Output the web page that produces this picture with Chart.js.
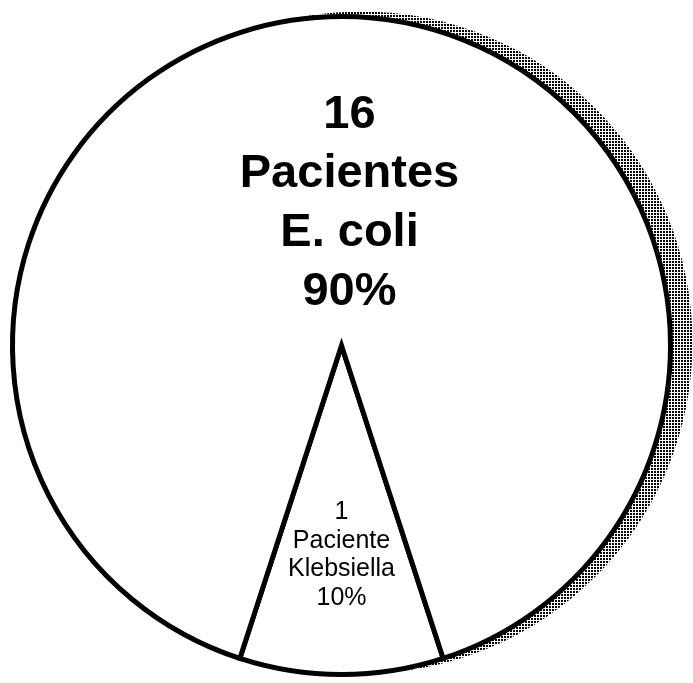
<!DOCTYPE html>
<html>
<head>
<meta charset="utf-8">
<script src="https://cdn.jsdelivr.net/npm/chart.js@4/dist/chart.umd.min.js"></script>
<style>
    html, body { margin: 0; padding: 0; background: #fff; }
    #wrap { width: 693px; height: 683px; }
</style>
</head>
<body>
<div id="wrap"><canvas id="pieChart" width="693" height="683"></canvas></div>
<script>
// Data
const categories = ['Klebsiella', 'E. coli'];
const patients = [1, 16];
const patientWords = ['Paciente', 'Pacientes'];
const percents = [10, 90];

// Halftone dots for the drop shadow
function makeDots() {
    const c = document.createElement('canvas');
    c.width = 3;
    c.height = 3;
    const g = c.getContext('2d');
    g.fillStyle = '#000';
    g.fillRect(0, 0, 2, 2);
    return g.createPattern(c, 'repeat');
}

const shadowPlugin = {
    id: 'pieShadow',
    beforeDatasetsDraw(chart, args, opts) {
        const arc = chart.getDatasetMeta(0).data[0];
        const p = arc.getProps(['x', 'y', 'outerRadius'], true);
        const ctx = chart.ctx;
        ctx.save();
        ctx.fillStyle = makeDots();
        ctx.beginPath();
        ctx.arc(p.x + opts.dx, p.y + opts.dy, p.outerRadius + opts.grow, 0, Math.PI * 2);
        ctx.fill();
        ctx.restore();
    }
};

const labelPlugin = {
    id: 'sliceLabels',
    afterDatasetsDraw(chart, args, opts) {
        const ctx = chart.ctx;
        chart.getDatasetMeta(0).data.forEach((arc, i) => {
            const p = arc.getProps(['x', 'y', 'startAngle', 'endAngle', 'outerRadius'], true);
            const mid = (p.startAngle + p.endAngle) / 2;
            const st = opts.styles[i];
            const cx = p.x + Math.cos(mid) * p.outerRadius * st.dist + st.dx;
            const cy = p.y + Math.sin(mid) * p.outerRadius * st.dist;
            const lines = [String(patients[i]), patientWords[i], categories[i], percents[i] + '%'];
            ctx.save();
            ctx.fillStyle = '#000';
            ctx.font = st.font;
            ctx.textAlign = 'center';
            ctx.textBaseline = 'middle';
            lines.forEach((t, k) => {
                ctx.fillText(t, cx, cy + (k - (lines.length - 1) / 2) * st.lineHeight);
            });
            ctx.restore();
        });
    }
};

new Chart(document.getElementById('pieChart'), {
    type: 'pie',
    data: {
        labels: categories,
        datasets: [{
            data: percents,
            backgroundColor: '#ffffff',
            borderColor: '#000000',
            borderWidth: 5,
            borderJoinStyle: 'miter'
        }]
    },
    options: {
        responsive: false,
        animation: false,
        rotation: 162,
        layout: { padding: { left: 10, right: 20, top: 14, bottom: 6 } },
        plugins: {
            legend: { display: false },
            tooltip: { enabled: false },
            pieShadow: { dx: 20, dy: -3, grow: 2 },
            sliceLabels: {
                styles: [
                    { dist: 0.637, dx: 0, font: '25px "Liberation Sans", Arial, sans-serif', lineHeight: 28.5 },
                    { dist: 0.43, dx: 8, font: 'bold 47px "Liberation Sans", Arial, sans-serif', lineHeight: 59 }
                ]
            }
        }
    },
    plugins: [shadowPlugin, labelPlugin]
});
</script>
</body>
</html>
